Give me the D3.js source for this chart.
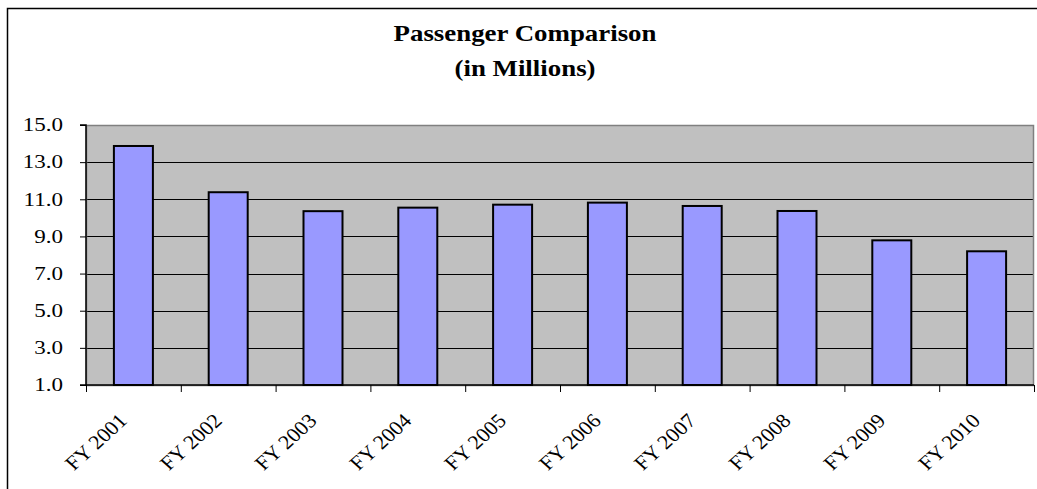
<!DOCTYPE html>
<html>
<head>
<meta charset="utf-8">
<script src="https://cdn.jsdelivr.net/npm/d3@7"></script>
<style>
  html, body { margin: 0; padding: 0; background: #fff; overflow: hidden; }
  svg { display: block; }
  text { font-family: "Liberation Serif", "Times New Roman", serif; }
</style>
</head>
<body>
<svg id="chart" width="1037" height="489"></svg>
<script>
const categories = ["FY 2001","FY 2002","FY 2003","FY 2004","FY 2005","FY 2006","FY 2007","FY 2008","FY 2009","FY 2010"];
const passengers = [13.87, 11.38, 10.36, 10.55, 10.71, 10.82, 10.64, 10.37, 8.79, 8.2];
const yTicks = [1, 3, 5, 7, 9, 11, 13, 15];
const titleLines = ["Passenger Comparison", "(in Millions)"];

const svg = d3.select("#chart");
const W = 1037, H = 489;
const plot = { left: 86, right: 1034, top: 125, bottom: 385 };

// outer chart border
svg.append("rect")
  .attr("x", 7.5).attr("y", 8.5)
  .attr("width", W + 20).attr("height", H + 20)
  .attr("fill", "#fff").attr("stroke", "#000").attr("stroke-width", 1.5);

// title
const titleBaselines = [41, 76];
titleLines.forEach((t, i) => {
  svg.append("text")
    .attr("transform", `translate(525,${titleBaselines[i]}) scale(1.12,1)`)
    .attr("text-anchor", "middle")
    .attr("font-weight", "bold")
    .attr("font-size", 24)
    .attr("fill", "#000")
    .text(t);
});

const x = d3.scaleBand().domain(categories).range([plot.left, plot.right]).paddingInner(0).paddingOuter(0);
const y = d3.scaleLinear().domain([1, 15]).range([plot.bottom, plot.top]);

// plot background
svg.append("rect")
  .attr("x", plot.left).attr("y", plot.top)
  .attr("width", plot.right - plot.left).attr("height", plot.bottom - plot.top)
  .attr("fill", "#C0C0C0");

// gridlines
svg.append("g").selectAll("line").data(yTicks.filter(d => d > 1 && d < 15)).join("line")
  .attr("x1", plot.left).attr("x2", plot.right)
  .attr("y1", d => Math.round(y(d)) + 0.5).attr("y2", d => Math.round(y(d)) + 0.5)
  .attr("stroke", "#000").attr("stroke-width", 1);

// plot border (top/right gray)
svg.append("rect")
  .attr("x", plot.left + 0.5).attr("y", plot.top + 0.5)
  .attr("width", plot.right - plot.left - 1).attr("height", plot.bottom - plot.top)
  .attr("fill", "none").attr("stroke", "#808080").attr("stroke-width", 1.5);

// bars
const barW = 39;
svg.append("g").selectAll("rect").data(passengers).join("rect")
  .attr("x", (d, i) => x(categories[i]) + (x.bandwidth() - barW) / 2)
  .attr("y", d => y(d))
  .attr("width", barW)
  .attr("height", d => y(1) - y(d))
  .attr("fill", "#9999FF")
  .attr("stroke", "#000")
  .attr("stroke-width", 2);

// y axis
const yAxis = d3.axisLeft(y).tickValues(yTicks).tickFormat(d3.format(".1f")).tickSize(6).tickPadding(0);
const gy = svg.append("g").attr("transform", `translate(${plot.left},0)`).call(yAxis);
gy.select(".domain").attr("stroke", "#000").attr("stroke-width", 1.5).attr("d", `M${-6},${plot.top}H0V${plot.bottom}H${-6}`);
gy.selectAll(".tick line").attr("stroke", "#000");
gy.selectAll(".tick text")
  .attr("x", null)
  .attr("transform", "translate(-23,0) scale(1.28,1)")
  .attr("font-size", 18).attr("fill", "#000")
  .attr("font-family", "Liberation Serif, Times New Roman, serif");

// x axis
const xAxis = d3.axisBottom(d3.scaleLinear().domain([0, categories.length]).range([plot.left, plot.right]))
  .tickValues(d3.range(0, categories.length + 1)).tickFormat("").tickSize(7);
const gx = svg.append("g").attr("transform", `translate(0,${plot.bottom})`).call(xAxis);
gx.select(".domain").attr("stroke", "#000").attr("stroke-width", 1.5).attr("d", `M${plot.left},0H${plot.right}`);
gx.selectAll(".tick line").attr("stroke", "#000");

// x labels
svg.append("g").selectAll("text").data(categories).join("text")
  .attr("transform", d => `translate(${x(d) + x.bandwidth() / 2 - 5},${plot.bottom + 37}) scale(1.1,1) rotate(-45)`)
  .attr("text-anchor", "end")
  .attr("font-size", 20)
  .attr("fill", "#000")
  .text(d => d);
</script>
</body>
</html>
